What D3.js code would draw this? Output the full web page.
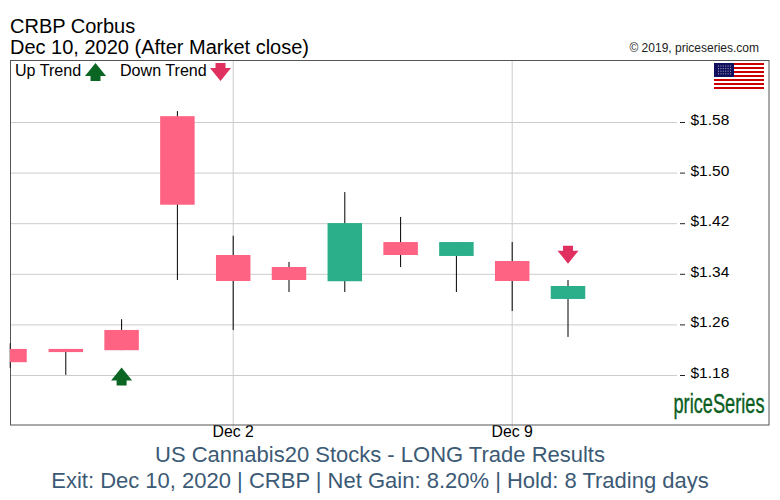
<!DOCTYPE html>
<html><head><meta charset="utf-8">
<script src="https://cdnjs.cloudflare.com/ajax/libs/d3/7.8.5/d3.min.js"></script>
<style>html,body{margin:0;padding:0;background:#fff}svg{display:block}text{font-family:"Liberation Sans",Arial,sans-serif}</style>
</head><body><svg id="c" width="780" height="500"></svg>
<script>
const dates=["Nov 25","Nov 27","Nov 30","Dec 1","Dec 2","Dec 3","Dec 4","Dec 7","Dec 8","Dec 9","Dec 10"];
const opens =[1.222,1.222,1.252,1.450,1.3705,1.3515,1.329,1.3705,1.391,1.361,1.301];
const closes=[1.201,1.217,1.220,1.590,1.3294,1.331,1.421,1.391,1.369,1.3294,1.3215];
const highs =[1.231,1.222,1.269,1.598,1.401,1.3595,1.470,1.4306,1.391,1.391,1.331];
const lows  =[1.192,1.181,1.220,1.331,1.252,1.312,1.312,1.3515,1.312,1.282,1.241];
const colorFlag=["d","d","d","d","d","d","u","d","u","d","u"];
const yTicks=[1.58,1.50,1.42,1.34,1.26,1.18];
const xTickLabels=["Dec 2","Dec 9"];
const upSignal={date:"Nov 30",price:1.18};
const downSignal={date:"Dec 10",price:1.36};
const titleLines=["CRBP Corbus","Dec 10, 2020 (After Market close)"];
const footerLines=["US Cannabis20 Stocks - LONG Trade Results","Exit: Dec 10, 2020 | CRBP | Net Gain: 8.20% | Hold: 8 Trading days"];

const svg=d3.select("#c");
const L=10.5,R=769,T=60.5,B=425,GR=677;
const xIdx=d3.scaleLinear().domain([0,10]).range([10,568]);
const x=d=>xIdx(dates.indexOf(d));
const y=d3.scaleLinear().domain([1.18,1.58]).range([375.5,122.5]);
const bw=34.5;
const pink="#ff6384",green="#2baf8a",upC="#0b6623",downC="#e0305f";

svg.append("defs").append("clipPath").attr("id","pc").append("rect")
  .attr("x",L-1).attr("y",T).attr("width",R-L).attr("height",B-T);

// horizontal grid + ticks
const yG=svg.append("g");
yG.selectAll("line.g").data(yTicks).join("line").attr("class","g")
  .attr("x1",L).attr("x2",GR).attr("y1",d=>y(d)).attr("y2",d=>y(d))
  .attr("stroke","#cccccc").attr("stroke-width",1);
yG.selectAll("line.t").data(yTicks).join("line").attr("class","t")
  .attr("x1",680).attr("x2",685).attr("y1",d=>y(d)).attr("y2",d=>y(d))
  .attr("stroke","#222").attr("stroke-width",1);
yG.selectAll("text").data(yTicks).join("text")
  .attr("x",690.5).attr("y",d=>y(d)+2.5).attr("font-size",15.5).attr("fill","#000")
  .text(d=>"$"+d.toFixed(2));

// vertical grid
xTickLabels.forEach(d=>{
  svg.append("line").attr("x1",x(d)).attr("x2",x(d)).attr("y1",T).attr("y2",B+5)
    .attr("stroke","#cccccc");
  svg.append("text").attr("x",x(d)).attr("y",437).attr("text-anchor","middle")
    .attr("font-size",15.8).attr("fill","#000").text(d);
});

// border
svg.append("rect").attr("x",L).attr("y",T).attr("width",R-L).attr("height",B-T)
  .attr("fill","none").attr("stroke","#555").attr("stroke-width",1);

// candles
const cg=svg.append("g").attr("clip-path","url(#pc)");
const idx=d3.range(dates.length);
cg.selectAll("line.w").data(idx).join("line").attr("class","w")
  .attr("x1",i=>xIdx(i)).attr("x2",i=>xIdx(i))
  .attr("y1",i=>y(highs[i])).attr("y2",i=>y(lows[i]))
  .attr("stroke","#000").attr("stroke-width",1);
cg.selectAll("rect.b").data(idx).join("rect").attr("class","b")
  .attr("x",i=>Math.max(xIdx(i)-bw/2,L-0.5)).attr("width",i=>xIdx(i)-bw/2<L?xIdx(i)+bw/2-L:bw)
  .attr("y",i=>y(Math.max(opens[i],closes[i])))
  .attr("height",i=>Math.abs(y(opens[i])-y(closes[i])))
  .attr("fill",i=>colorFlag[i]==="u"?green:pink);

// arrows
const upPath=(cx,ty)=>`M${cx},${ty}L${cx+10.5},${ty+13}L${cx+5},${ty+13}L${cx+5},${ty+18}L${cx-5},${ty+18}L${cx-5},${ty+13}L${cx-10.5},${ty+13}Z`;
const downPath=(cx,ty)=>`M${cx},${ty+18}L${cx+10.5},${ty+5}L${cx+5},${ty+5}L${cx+5},${ty}L${cx-5},${ty}L${cx-5},${ty+5}L${cx-10.5},${ty+5}Z`;
svg.append("path").attr("d",upPath(x(upSignal.date),y(upSignal.price)-8)).attr("fill",upC);
svg.append("path").attr("d",downPath(x(downSignal.date),y(downSignal.price)-16)).attr("fill",downC);

// legend
svg.append("text").attr("x",15).attr("y",76).attr("font-size",16.1).attr("fill","#000").text("Up Trend");
svg.append("path").attr("d",upPath(95.5,63)).attr("fill",upC);
svg.append("text").attr("x",120).attr("y",76).attr("font-size",16.1).attr("fill","#000").text("Down Trend");
svg.append("path").attr("d",downPath(220.5,63)).attr("fill",downC);

// titles
titleLines.forEach((t,i)=>svg.append("text").attr("x",10).attr("y",33+i*21).attr("font-size",20).attr("fill","#000").text(t));
svg.append("text").attr("x",759).attr("y",52).attr("text-anchor","end").attr("font-size",12).attr("fill","#222").text("© 2019, priceseries.com");

// flag
const fx=714,fy=63,fw=50,fh=26;
const fg=svg.append("g");
fg.append("rect").attr("x",fx).attr("y",fy).attr("width",fw).attr("height",fh).attr("fill","#fff");
d3.range(7).forEach(i=>fg.append("rect").attr("x",fx).attr("y",fy+i*2*fh/13).attr("width",fw).attr("height",fh/13).attr("fill","#cc0000"));
fg.append("rect").attr("x",fx).attr("y",fy).attr("width",20).attr("height",14).attr("fill","#10105e");
d3.range(4).forEach(r=>d3.range(6).forEach(c=>fg.append("rect").attr("x",fx+4+c*2.4).attr("y",fy+2.5+r*2.6).attr("width",1).attr("height",1).attr("fill","#aab")));

// logo
svg.append("text").attr("transform","translate(673.5,413) scale(0.65,1)").attr("font-size",28).attr("fill","#0b5e1e").attr("stroke","#0b5e1e").attr("stroke-width",0.4).text("priceSeries");

// footer
footerLines.forEach((t,i)=>svg.append("text").attr("x",380).attr("y",462+i*25.5).attr("text-anchor","middle").attr("font-size",22).attr("fill","#3c5a75").text(t));
</script></body></html>
